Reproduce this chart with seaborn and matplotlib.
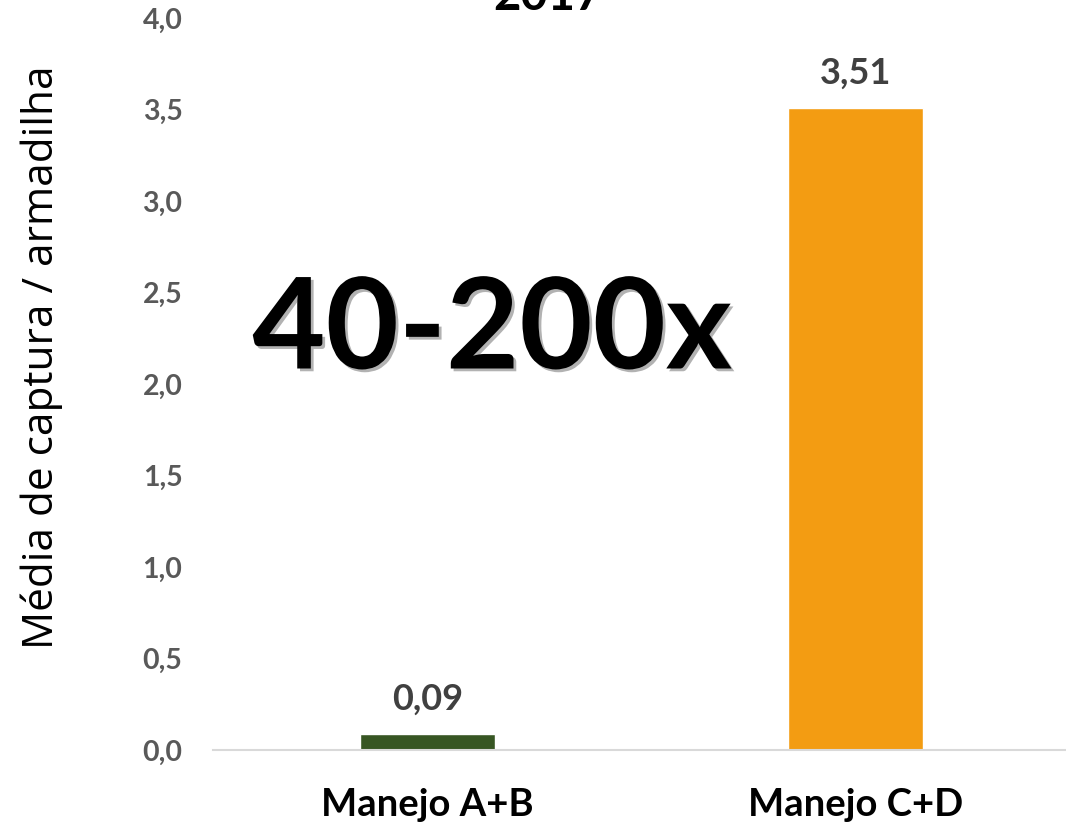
import matplotlib.pyplot as plt
import matplotlib.patheffects as pe
import pandas as pd
import seaborn as sns

categories = ["Manejo A+B", "Manejo C+D"]
values = [0.09, 3.51]
value_labels = ["0,09", "3,51"]
bar_colors = ["#375623", "#F39C12"]
y_ticks = [0.0, 0.5, 1.0, 1.5, 2.0, 2.5, 3.0, 3.5, 4.0]
y_tick_labels = ["0,0", "0,5", "1,0", "1,5", "2,0", "2,5", "3,0", "3,5", "4,0"]
title = "2017"
ylabel = "Média de captura / armadilha"
callout = "40-200x"

df = pd.DataFrame({"manejo": categories, "media": values})

sns.set_theme(style="white")
plt.rcParams["font.family"] = ["Lato", "DejaVu Sans"]

fig = plt.figure(figsize=(10.66, 8.25), dpi=100)
ax = fig.add_axes([213 / 1066, 75 / 825, 857 / 1066, 732 / 825])

sns.barplot(data=df, x="manejo", y="media", hue="manejo", palette=bar_colors,
            width=0.315, saturation=1, legend=False, ax=ax)

ax.set_ylim(0, 4.0)
ax.set_yticks(y_ticks)
ax.set_yticklabels(y_tick_labels, fontsize=20.5, fontweight="bold", color="#595959")
ax.set_xticks(range(len(categories)))
ax.set_xticklabels(categories, fontsize=27.5, fontweight="bold", color="black")
ax.tick_params(axis="y", length=0, pad=22)
ax.tick_params(axis="x", length=0, pad=27)
ax.set_xlabel("")
ax.set_ylabel("")

for side in ["top", "right", "left"]:
    ax.spines[side].set_visible(False)
ax.spines["bottom"].set_color("#D9D9D9")
ax.spines["bottom"].set_linewidth(1.5)

# rótulos de valor acima das barras
for i, (v, lab) in enumerate(zip(values, value_labels)):
    ax.text(i, v + 0.19, lab, ha="center", va="center", fontsize=26,
            fontweight="bold", color="#404040")

fig.text(42 / 1066, 1 - 357 / 825, ylabel, rotation=90, ha="center", va="center",
         fontsize=30.5, family=["Open Sans", "DejaVu Sans"], color="black")

fig.text(492 / 1066, 1 - 332 / 825, callout, ha="center", va="center",
         fontsize=91, fontweight="bold", color="black",
         path_effects=[pe.SimplePatchShadow(offset=(2, -2), alpha=0.3), pe.Normal()])

fig.text(548 / 1066, 1 - 10 / 825, title, ha="center", va="baseline",
         fontsize=34, fontweight="bold", color="black")

fig.savefig("out.png", dpi=100)
